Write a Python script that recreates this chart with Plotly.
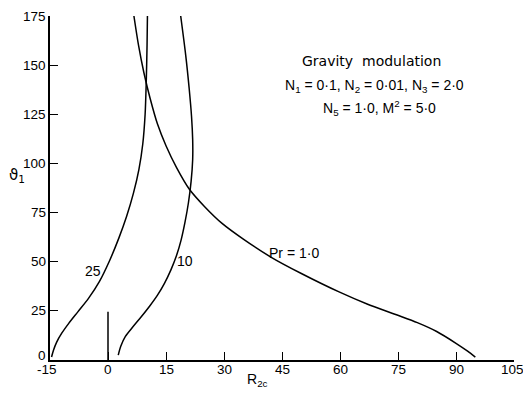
import plotly.graph_objects as go

# Pr = 1.0 curve (R2c, nu1)
pr1_r = [6.7, 7.9, 9.3, 10.9, 12.8, 15.0, 17.7, 21.0, 25.0, 29.5, 35.0, 42.0, 50.0, 59.9, 67.0, 74.6, 80.0, 85.0, 90.0, 93.0, 95.0]
pr1_v = [175, 160, 146, 133, 120, 109, 98, 87, 78, 69.5, 61.5, 52.5, 44, 34.5, 28.5, 23, 19, 14.5, 8.5, 4.5, 1.5]

# Pr = 25 curve
pr25_r = [-14.6, -14.1, -13.3, -12.0, -10.2, -7.8, -5.0, -2.2, 0.4, 2.8, 4.8, 6.6, 8.0, 9.0, 9.6, 9.9, 10.1, 10.2]
pr25_v = [1.5, 5, 9.0, 13.5, 18.5, 24.5, 31.5, 40, 50.5, 62, 73, 85, 97, 110, 125, 142, 160, 175]

# Pr = 10 curve
pr10_r = [2.65, 3.3, 4.5, 6.5, 8.6, 10.8, 12.8, 14.6, 16.3, 17.7, 18.9, 19.9, 20.8, 21.5, 21.9, 21.9, 21.6, 21.0, 20.1, 18.8]
pr10_v = [2.5, 7, 12, 17, 22, 27.5, 33, 39, 46, 53, 61, 70, 80, 91, 102, 112, 124, 138, 155, 175]

# short vertical marker at R2c = 0
mark_r = [0, 0]
mark_v = [0, 24.6]

x_ticks = [-15, 0, 15, 30, 45, 60, 75, 90, 105]
y_ticks = [0, 25, 50, 75, 100, 125, 150, 175]

font = "Liberation Sans, Arial, sans-serif"
black = "black"
fig = go.Figure()
for rr, vv in [(pr1_r, pr1_v), (pr25_r, pr25_v), (pr10_r, pr10_v)]:
    fig.add_trace(go.Scatter(x=rr, y=vv, mode="lines",
                             line=dict(color=black, width=1.5, shape="spline", smoothing=0.8),
                             showlegend=False, hoverinfo="skip"))
fig.add_trace(go.Scatter(x=mark_r, y=mark_v, mode="lines", line=dict(color=black, width=1.5),
                         showlegend=False, hoverinfo="skip"))

anns = [
    dict(x=-4.0, y=45.5, text="25", f=font),
    dict(x=20.0, y=50.5, text="10", f=font),
    dict(x=48.2, y=54.5, text="Pr = 1·0", f=font),
    dict(x=68.2, y=152, text="Gravity\u00a0\u00a0modulation", f="DejaVu Sans, sans-serif"),
    dict(x=69.0, y=139.4, text="N<sub>1</sub> = 0·1, N<sub>2</sub> = 0·01, N<sub>3</sub> = 2·0", f=font),
    dict(x=70.3, y=128.2, text="N<sub>5</sub> = 1·0, M<sup>2</sup> = 5·0", f=font),
]
for a in anns:
    fig.add_annotation(x=a["x"], y=a["y"], text=a["text"], showarrow=False, xref="x", yref="y",
                       font=dict(family=a["f"], size=14, color=black))

# x tick labels (drawn close to the axis like the original)
for t in x_ticks:
    fig.add_annotation(x=t, y=0, xref="x", yref="y", text=str(t), showarrow=False,
                       yanchor="top", yshift=0, xshift=(-2 if t == x_ticks[-1] else (-3 if t < 0 else 0)),
                       font=dict(family=font, size=13.5, color=black))

# y tick labels
for t in y_ticks:
    fig.add_annotation(x=-15, y=t, xref="x", yref="y", text=str(t), showarrow=False,
                       xanchor="right", xshift=-2, yshift=(5 if t == 0 else 0),
                       font=dict(family=font, size=13.5, color=black))

# axis titles
fig.add_annotation(x=0.448, y=-0.058, xref="paper", yref="paper", text="R<sub>2c</sub>",
                   showarrow=False, yanchor="middle", font=dict(family=font, size=14, color=black))
fig.add_annotation(x=-0.093, y=0.535, xref="paper", yref="paper", text="ϑ<sub>1</sub>",
                   showarrow=False, font=dict(family="DejaVu Sans, sans-serif", size=15, color=black))

fig.update_layout(
    width=523, height=397,
    margin=dict(l=50, r=9, t=16, b=37, autoexpand=False),
    paper_bgcolor="white", plot_bgcolor="white",
    font=dict(family=font, size=14, color=black),
    xaxis=dict(range=[-15, 105], tickvals=x_ticks, showticklabels=False, automargin=False,
               showgrid=False, zeroline=False, showline=True, linecolor=black, linewidth=1.5,
               ticks="inside", ticklen=8, tickwidth=1.3, tickcolor=black),
    yaxis=dict(range=[0, 175], tickvals=y_ticks, showticklabels=False, automargin=False,
               showgrid=False, zeroline=False, showline=True, linecolor=black, linewidth=1.5,
               ticks="inside", ticklen=8, tickwidth=1.3, tickcolor=black),
)
fig.write_html("out.html", config={"displayModeBar": False},
               post_script="document.body.style.margin='0';")
